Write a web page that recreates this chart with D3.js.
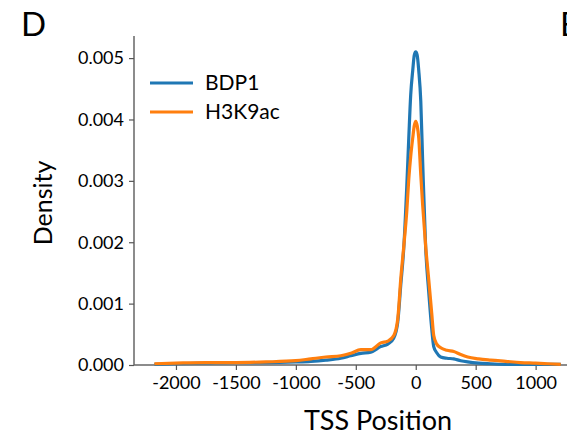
<!DOCTYPE html>
<html>
<head>
<meta charset="utf-8">
<script src="https://cdn.jsdelivr.net/npm/d3@7"></script>
<style>
  body { margin: 0; background: #fff; }
  text { font-family: Lato, "Open Sans", sans-serif; fill: #000; }
</style>
</head>
<body>
<svg width="567" height="439"></svg>
<script>
const positions = [-2180, -2000, -1750, -1500, -1250, -1000, -875, -750, -625, -542, -458, -375,
  -292, -233, -183, -150, -125, -100, -75, -58, -42, -25, -12, 0, 12, 25, 42, 58, 83, 108, 133,
  150, 175, 208, 260, 317, 375, 433, 525, 625, 750, 875, 1000, 1100, 1210];

const bdp1 = [0.00001, 0.00002, 0.00003, 0.00004, 0.00004, 0.00005, 0.00006, 0.00008, 0.00011, 0.00015, 0.00019, 0.00021,
  0.0003, 0.00034, 0.00044, 0.0007, 0.0013, 0.0019, 0.0029, 0.0037, 0.0044, 0.0048, 0.00505, 0.0051, 0.00505, 0.0048, 0.0043, 0.0033, 0.0019, 0.0012, 0.0006,
  0.0003, 0.0002, 0.00013, 0.00011, 0.0001, 0.00007, 0.00005, 0.00003, 0.00002, 0.00001, 0.00001, 0.00001, 0.00001, 0.00001];

const h3k9ac = [0.00002, 0.00003, 0.00004, 0.00004, 0.00005, 0.00007, 0.0001, 0.00013, 0.00015, 0.00019, 0.00025, 0.00025,
  0.00036, 0.00039, 0.00048, 0.00075, 0.0014, 0.00193, 0.0025, 0.00303, 0.0034, 0.0037, 0.0039, 0.00397, 0.0039, 0.0037, 0.0031, 0.0026, 0.00193, 0.0014, 0.00085,
  0.00048, 0.00034, 0.00028, 0.00024, 0.00022, 0.00017, 0.00013, 0.0001, 0.00008, 0.00006, 0.00004, 0.00003, 0.00002, 0.00001];

const seriesNames = ['BDP1', 'H3K9ac'];
const seriesColors = ['#1f77b4', '#ff7f0e'];
const xTicks = [-2000, -1500, -1000, -500, 0, 500, 1000];
const yTicks = [0, 0.001, 0.002, 0.003, 0.004, 0.005];

const svg = d3.select('svg');

const x = d3.scaleLinear().domain([-2350, 1270]).range([134, 568]);
const y = d3.scaleLinear().domain([0, 0.00536]).range([365, 36]);

// axes
const xAxis = svg.append('g')
  .attr('transform', `translate(0,${y(0)})`)
  .call(d3.axisBottom(x).tickValues(xTicks).tickSize(5).tickPadding(6).tickFormat(d => String(d)));

const yAxis = svg.append('g')
  .attr('transform', `translate(${x.range()[0]},0)`)
  .call(d3.axisLeft(y).tickValues(yTicks).tickSize(5).tickPadding(5).tickFormat(d3.format('.3f')));

[xAxis, yAxis].forEach(a => {
  a.select('.domain').attr('stroke', '#666').attr('stroke-width', 1.5);
  a.selectAll('.tick line').attr('stroke', '#555').attr('stroke-width', 1.2);
  a.selectAll('.tick text')
    .style('font-family', 'Lato, sans-serif')
    .style('font-size', '18px')
    .attr('fill', '#000');
});
xAxis.select('.domain').attr('d', `M${x.range()[0]},0H${x.range()[1]}`);
yAxis.select('.domain').attr('d', `M0,${y.range()[0]}V${y.range()[1]}`);

// curves
const line = d3.line()
  .x((d, i) => x(positions[i]))
  .y(d => y(d))
  .curve(d3.curveMonotoneX);

[bdp1, h3k9ac].forEach((vals, i) => {
  svg.append('path')
    .datum(vals)
    .attr('d', line)
    .attr('fill', 'none')
    .attr('stroke', seriesColors[i])
    .attr('stroke-width', 3.2)
    .attr('stroke-linejoin', 'round');
});

// legend
const legend = svg.append('g').attr('transform', 'translate(150,83)');
seriesNames.forEach((name, i) => {
  const row = legend.append('g').attr('transform', `translate(0,${i * 29})`);
  row.append('line')
    .attr('x1', 0).attr('x2', 43)
    .attr('stroke', seriesColors[i])
    .attr('stroke-width', 3);
  row.append('text')
    .attr('x', 55).attr('y', 7)
    .style('font-size', '21px')
    .text(name);
});

// axis titles
svg.append('text')
  .attr('transform', 'translate(52,203) rotate(-90)')
  .attr('text-anchor', 'middle')
  .style('font-size', '25px')
  .text('Density');

svg.append('text')
  .attr('x', 378).attr('y', 430)
  .attr('text-anchor', 'middle')
  .style('font-size', '27px')
  .text('TSS Position');

// panel letters (next panel's letter is cut at the right edge, as in the source figure)
svg.append('text')
  .attr('x', 21).attr('y', 36)
  .style('font-size', '33px')
  .text('D');

svg.append('text')
  .attr('x', 560).attr('y', 36)
  .style('font-size', '33px')
  .text('E');
</script>
</body>
</html>
